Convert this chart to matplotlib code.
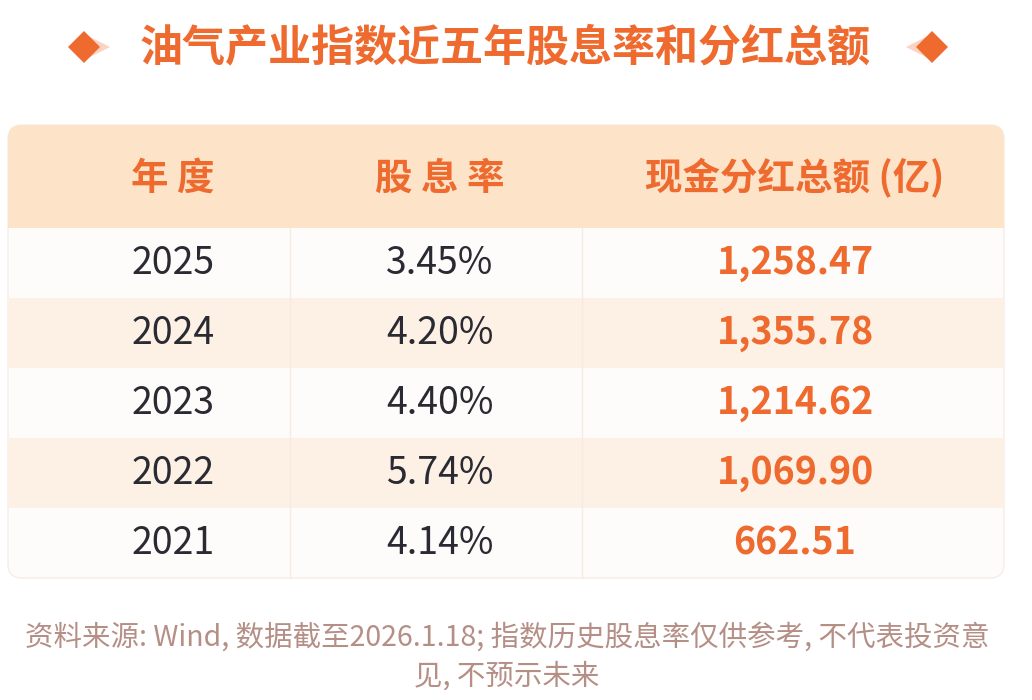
import matplotlib.pyplot as plt
from matplotlib.patches import FancyBboxPatch, Rectangle

plt.rcParams["font.family"] = ["Noto Sans CJK SC", "DejaVu Sans"]

title = "油气产业指数近五年股息率和分红总额"
headers = ["年 度", "股 息 率", "现金分红总额 (亿)"]
years = ["2025", "2024", "2023", "2022", "2021"]
rates = ["3.45%", "4.20%", "4.40%", "5.74%", "4.14%"]
amounts = ["1,258.47", "1,355.78", "1,214.62", "1,069.90", "662.51"]
note1 = "资料来源: Wind, 数据截至2026.1.18; 指数历史股息率仅供参考, 不代表投资意"
note2 = "见, 不预示未来"

orange = "#ee6a2e"
fig = plt.figure(figsize=(10.32, 7), dpi=100)
ax = fig.add_axes([0, 0, 1, 1])
ax.set_xlim(0, 1032)
ax.set_ylim(700, 0)
ax.axis("off")

# title with diamonds
ax.text(505, 47, title, ha="center", va="center", fontsize=31, fontweight="bold", color=orange)
for cx, d in [(84, 1), (932, -1)]:
    ax.plot(cx + d * 15, 47, marker=">" if d > 0 else "<", markersize=16, color="#fbd3c0", markeredgewidth=0)
    ax.plot(cx, 47, marker="D", markersize=16, color=orange, markeredgewidth=0)

# table body
x0, x1 = 8, 1004
ax.add_patch(FancyBboxPatch((x0, 125), x1 - x0, 453, boxstyle="round,pad=0,rounding_size=14",
                            facecolor="#fefcfb", edgecolor="#f6ece6", linewidth=1))
ax.add_patch(FancyBboxPatch((x0, 125), x1 - x0, 103, boxstyle="round,pad=0,rounding_size=14",
                            facecolor="#fde3c8", edgecolor="none"))
ax.add_patch(Rectangle((x0, 200), x1 - x0, 28, facecolor="#fde3c8", edgecolor="none"))

row_top = 228
row_h = 70
col_x = [173, 440, 795]
for i in range(len(years)):
    top = row_top + i * row_h
    if i % 2 == 1:
        ax.add_patch(Rectangle((x0, top), x1 - x0, row_h, facecolor="#fdf1e5", edgecolor="none"))
    yc = top + row_h / 2
    ax.text(col_x[0], yc, years[i], ha="center", va="center", fontsize=27, color="#2a2a33")
    ax.text(col_x[1], yc, rates[i], ha="center", va="center", fontsize=27, color="#2a2a33")
    ax.text(col_x[2], yc, amounts[i], ha="center", va="center", fontsize=27, fontweight="bold", color=orange)
for xv in [290, 582]:
    ax.plot([xv, xv], [228, 578], color="#f6ebe3", linewidth=1)

for cx, h in zip(col_x, headers):
    ax.text(cx, 178, h, ha="center", va="center", fontsize=27, fontweight="bold", color=orange)

ax.text(507, 638, note1, ha="center", va="center", fontsize=20.5, color="#b58f86")
ax.text(507, 677, note2, ha="center", va="center", fontsize=20.5, color="#b58f86")

fig.savefig("out.png", dpi=100)
